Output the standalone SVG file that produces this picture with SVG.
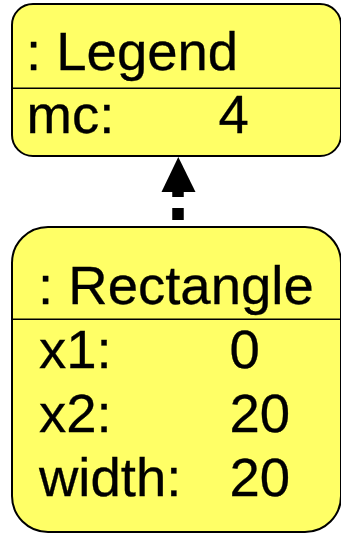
<svg xmlns="http://www.w3.org/2000/svg" width="341" height="533" viewBox="0 0 341 533">
<style>
.box{fill:#ffff66;stroke:#000;stroke-width:2}
.div{stroke:#000;stroke-width:1.6}
text{font-family:"Liberation Sans",Arial,sans-serif;font-size:54.5px;fill:#000;stroke:#000;stroke-width:0.3}
</style>
<rect width="341" height="533" fill="#fff"/>
<g id="connectors">
<line x1="178" y1="220" x2="178" y2="186" stroke="#000" stroke-width="11.5" stroke-dasharray="12 11"/>
<polygon points="178.3,157 161.5,192 195.5,192" fill="#000"/>
</g>
<g id="legend">
<rect class="box" x="12" y="4" width="329" height="152" rx="21" ry="21"/>
<line class="div" x1="12" y1="88.3" x2="341" y2="88.3"/>
<text x="26" y="70">: Legend</text>
<text x="26.5" y="133">mc:</text>
<text x="218.5" y="133">4</text>
</g>
<g id="rectangle">
<rect class="box" x="12" y="227" width="329" height="305" rx="36" ry="36"/>
<line class="div" x1="12" y1="319.3" x2="341" y2="319.3"/>
<text x="38" y="304">: Rectangle</text>
<text x="39" y="368">x1:</text>
<text x="229.5" y="368">0</text>
<text x="39" y="432">x2:</text>
<text x="229.5" y="432">20</text>
<text x="39" y="495.5">width:</text>
<text x="229.5" y="495.5">20</text>
</g>
</svg>
